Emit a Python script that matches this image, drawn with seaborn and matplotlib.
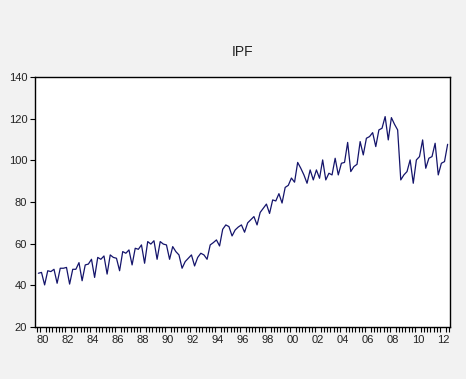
import matplotlib
matplotlib.use("Agg")
import matplotlib.pyplot as plt
import numpy as np
import pandas as pd
import seaborn as sns
from matplotlib.ticker import FixedLocator, NullFormatter

# Serie trimestral IPF, 1980Q1 - 2012Q4
ipf_1980s = [
    45.8, 46.2, 40.2, 47.0,
    46.6, 47.7, 41.0, 48.2,
    48.2, 48.6, 40.6, 47.7,
    47.7, 50.9, 42.2, 49.8,
    50.2, 52.5, 43.8, 53.4,
    52.5, 54.1, 45.4, 54.6,
    53.4, 53.0, 47.0, 56.2,
    55.4, 57.0, 49.8, 57.8,
    57.3, 59.4, 50.6, 61.0,
    59.8, 61.4, 52.5, 61.0,
]
ipf_1990s = [
    59.8, 59.4, 52.5, 58.6,
    56.2, 54.6, 48.2, 51.4,
    53.0, 54.6, 49.3, 53.4,
    55.4, 54.6, 52.5, 59.4,
    60.5, 61.8, 58.9, 66.9,
    69.0, 68.2, 63.7, 66.6,
    68.0, 69.0, 65.5, 70.0,
    71.5, 73.0, 69.0, 75.0,
    77.0, 79.0, 74.5, 81.0,
    80.5, 84.0, 79.5, 87.0,
]
ipf_2000s = [
    88.0, 91.5, 89.5, 99.0,
    96.2, 93.0, 89.0, 95.4,
    90.6, 95.4, 91.4, 100.2,
    90.6, 93.8, 93.0, 101.0,
    93.0, 98.6, 99.0, 108.6,
    94.6, 97.0, 98.1, 109.0,
    102.6, 110.6, 111.4, 113.3,
    106.6, 114.6, 115.4, 121.0,
    109.8, 120.5, 117.3, 114.6,
    90.6, 93.0, 94.6, 100.2,
]
ipf_2010s = [
    89.0, 100.2, 101.8, 109.8,
    96.2, 101.0, 101.8, 108.2,
    93.0, 98.6, 99.4, 107.7,
]

anio_inicio = 1980
anios_etiqueta = list(range(1980, 2013, 2))
etiquetas_x = [f"{a % 100:02d}" for a in anios_etiqueta]
ticks_y = [20, 40, 60, 80, 100, 120, 140]

valores = ipf_1980s + ipf_1990s + ipf_2000s + ipf_2010s
# Centro de cada trimestre en anios decimales
tiempo = anio_inicio + (np.arange(len(valores)) + 0.5) / 4
df = pd.DataFrame({"t": tiempo, "IPF": valores})

sns.set_theme(style="white")
plt.rcParams["font.family"] = ["Liberation Sans", "DejaVu Sans"]

fig = plt.figure(figsize=(4.66, 3.79), dpi=100, facecolor="#f2f2f2")
ax = fig.add_axes([35 / 466, 1 - 327 / 379, 415 / 466, 250 / 379])
ax.set_facecolor("white")

sns.lineplot(data=df, x="t", y="IPF", ax=ax, color="#14146b", linewidth=0.9)

ax.set_xlim(tiempo[0] - 0.27, tiempo[-1] + 0.19)
ax.set_ylim(20, 140)
ax.set_xlabel("")
ax.set_ylabel("")

# Etiquetas de anio centradas en cada anio par, ticks trimestrales
ax.xaxis.set_major_locator(FixedLocator([a + 0.5 for a in anios_etiqueta]))
ax.set_xticklabels(etiquetas_x)
ax.xaxis.set_minor_locator(FixedLocator(np.arange(anio_inicio, 2013.01, 0.25)))
ax.xaxis.set_minor_formatter(NullFormatter())
ax.tick_params(axis="x", which="major", length=0, pad=6, labelsize=8, colors="#222222")
ax.tick_params(axis="x", which="minor", bottom=True, length=3.5, width=0.8, color="black")

ax.set_yticks(ticks_y)
ax.tick_params(axis="y", which="major", left=True, length=3.6, width=0.8, color="black",
               pad=2, labelsize=8, labelcolor="#222222")

for lado in ax.spines.values():
    lado.set_color("black")
    lado.set_linewidth(1.0)

fig.text(242.5 / 466, 1 - 52 / 379, "IPF", ha="center", va="center", fontsize=10, color="#222222")

fig.savefig("out.png", dpi=100, facecolor=fig.get_facecolor())
